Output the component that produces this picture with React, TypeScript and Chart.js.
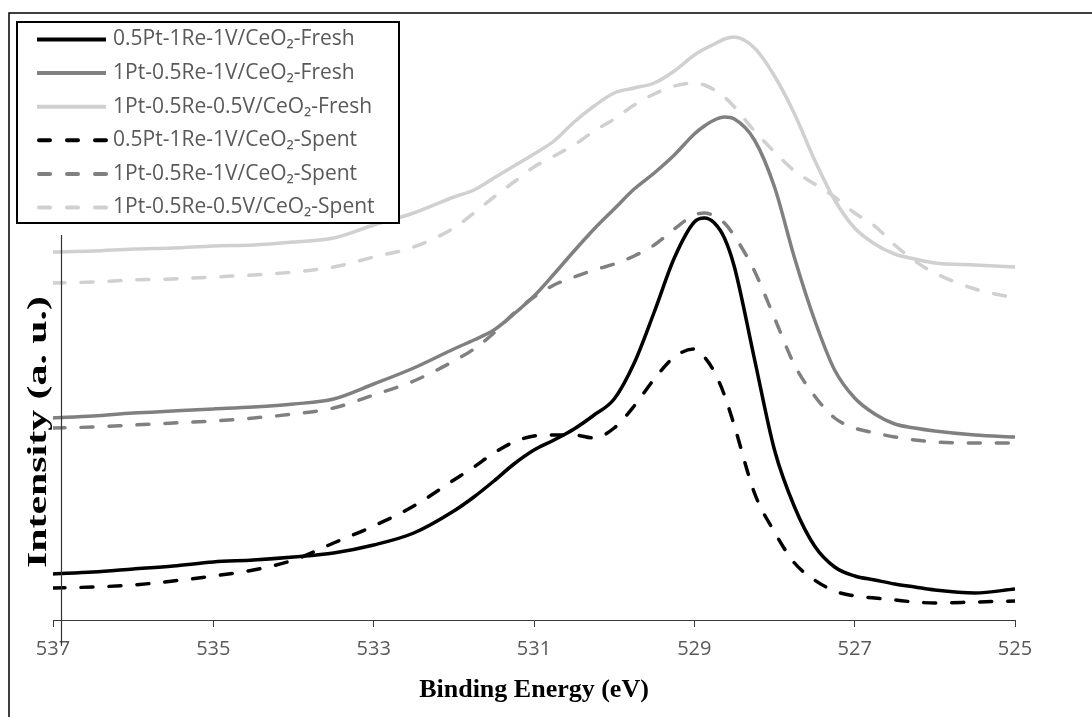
import React, { useEffect, useRef } from "react";
import { Chart, registerables } from "chart.js";

Chart.register(...registerables);

// Binding energy grid (eV)
const ENERGY_EV = [
  537, 536.5, 536, 535.5, 535, 534.5, 534, 533.5, 533, 532.5, 532, 531.75, 531.5, 531.25, 531,
  530.75, 530.5, 530.25, 530, 529.75, 529.5, 529.25, 529, 528.875, 528.75, 528.625, 528.5, 528.25,
  528, 527.75, 527.5, 527.25, 527, 526.75, 526.5, 526.25, 526, 525.5, 525,
];

// Intensities (a.u.), offset stacked as in the figure
const PT05_RE1_V1_FRESH = [
  46, 48, 51, 54, 58, 60, 63, 67, 75, 87, 109, 123, 139, 156, 170, 180, 191, 205, 221, 257, 308, 362,
  398, 402, 397, 382, 353, 261, 170, 113, 74, 53, 44, 40, 36, 33, 30, 27, 31,
];
const PT1_RE05_V1_FRESH = [
  202, 204, 207, 209, 211, 213, 216, 221, 236, 252, 271, 280, 290, 306, 324, 346, 369, 391, 411, 431,
  447, 465, 486, 494, 500, 503, 501, 480, 433, 362, 300, 250, 222, 206, 196, 192, 189, 185, 183,
];
const PT1_RE05_V05_FRESH = [
  368, 369, 371, 372, 374, 375, 378, 382, 395, 407, 423, 430, 442, 454, 466, 479, 498, 514, 527, 532,
  537, 549, 565, 571, 576, 581, 583, 572, 544, 506, 460, 420, 392, 376, 366, 361, 357, 355, 353,
];
const PT05_RE1_V1_SPENT = [
  32, 33, 35, 39, 44, 50, 60, 77, 94, 114, 140, 153, 167, 178, 184, 185, 185, 182, 192, 214, 241, 263,
  271, 263, 248, 225, 194, 127, 88, 57, 40, 29, 24, 22, 20, 18, 17, 18, 19,
];
const PT1_RE05_V1_SPENT = [
  192, 193, 195, 197, 199, 202, 206, 212, 225, 239, 259, 271, 287, 307, 323, 335, 343, 350, 356, 364,
  375, 391, 405, 407, 404, 397, 384, 349, 302, 255, 224, 202, 192, 187, 183, 180, 178, 177, 177,
];
const PT1_RE05_V05_SPENT = [
  337, 338, 340, 341, 343, 345, 348, 353, 363, 373, 392, 407, 423, 438, 453, 464, 475, 489, 501, 515,
  526, 534, 537, 535, 530, 523, 513, 489, 468, 449, 436, 423, 407, 394, 375, 359, 347, 331, 322,
];

const X_TICKS = [537, 535, 533, 531, 529, 527, 525];

const SERIES_LABELS = [
  "0.5Pt-1Re-1V/CeO₂-Fresh",
  "1Pt-0.5Re-1V/CeO₂-Fresh",
  "1Pt-0.5Re-0.5V/CeO₂-Fresh",
  "0.5Pt-1Re-1V/CeO₂-Spent",
  "1Pt-0.5Re-1V/CeO₂-Spent",
  "1Pt-0.5Re-0.5V/CeO₂-Spent",
];
const SERIES_VALUES = [
  PT05_RE1_V1_FRESH,
  PT1_RE05_V1_FRESH,
  PT1_RE05_V05_FRESH,
  PT05_RE1_V1_SPENT,
  PT1_RE05_V1_SPENT,
  PT1_RE05_V05_SPENT,
];
const SERIES_COLORS = ["#000000", "#808080", "#d0d0d0", "#000000", "#808080", "#d0d0d0"];
const SERIES_DASHED = [false, false, false, true, true, true];

const X_TITLE = "Binding Energy (eV)";
const Y_TITLE = "Intensity (a. u.)";

const decorPlugin = {
  id: "decor",
  afterDraw(chart: any) {
    const { ctx } = chart;
    const xs = chart.scales.x;
    const ys = chart.scales.y;
    ctx.save();

    // outer frame (top and left edges visible)
    ctx.strokeStyle = "#000";
    ctx.lineWidth = 1.5;
    ctx.beginPath();
    ctx.moveTo(9, chart.height);
    ctx.lineTo(9, 13);
    ctx.lineTo(chart.width, 13);
    ctx.stroke();

    // vertical axis line
    const vx = Math.round(xs.getPixelForValue(536.9)) + 0.5;
    ctx.strokeStyle = "#333";
    ctx.lineWidth = 1.2;
    ctx.beginPath();
    ctx.moveTo(vx, ys.getPixelForValue(385));
    ctx.lineTo(vx, chart.chartArea.bottom + 26);
    ctx.stroke();

    // y title (stretched as in the figure)
    ctx.save();
    ctx.translate(39, 432);
    ctx.rotate(-Math.PI / 2);
    ctx.font = 'bold 27px "Liberation Serif", "Times New Roman", serif';
    const w = ctx.measureText(Y_TITLE).width;
    ctx.scale(272 / w, 1);
    ctx.fillStyle = "#000";
    ctx.textAlign = "center";
    ctx.textBaseline = "middle";
    ctx.fillText(Y_TITLE, 0, 0);
    ctx.restore();

    // legend
    const lx = 17, ly = 22, lw = 382, lh = 201;
    ctx.fillStyle = "#fff";
    ctx.fillRect(lx, ly, lw, lh);
    ctx.strokeStyle = "#000";
    ctx.lineWidth = 2;
    ctx.strokeRect(lx, ly, lw, lh);
    chart.data.datasets.forEach((ds: any, i: number) => {
      const y = 39.5 + i * 33.6;
      const dashed = ds.borderDash && ds.borderDash.length;
      ctx.strokeStyle = ds.borderColor;
      ctx.lineWidth = 4;
      ctx.setLineDash(dashed ? [11, 17] : []);
      ctx.lineCap = dashed ? "round" : "butt";
      ctx.beginPath();
      ctx.moveTo(dashed ? 39 : 37, y);
      ctx.lineTo(106, y);
      ctx.stroke();
      ctx.setLineDash([]);
      ctx.fillStyle = "#595959";
      ctx.font = '21px "Open Sans", sans-serif';
      ctx.textAlign = "left";
      ctx.textBaseline = "middle";
      ctx.fillText(ds.label, 113, y);
    });
    ctx.restore();
  },
};

export default function App() {
  const canvasRef = useRef<HTMLCanvasElement | null>(null);

  useEffect(() => {
    const canvas = canvasRef.current;
    if (!canvas) return;
    const datasets = SERIES_LABELS.map((label, i) => ({
      label,
      data: ENERGY_EV.map((x, j) => ({ x, y: SERIES_VALUES[i][j] })),
      borderColor: SERIES_COLORS[i],
      backgroundColor: SERIES_COLORS[i],
      borderWidth: 3.5,
      borderDash: SERIES_DASHED[i] ? [12, 16] : [],
      borderCapStyle: SERIES_DASHED[i] ? "round" : "butt",
      borderJoinStyle: "round",
      pointRadius: 0,
      cubicInterpolationMode: "monotone",
      fill: false,
    }));
    // draw lighter ones first so darker lines sit on top
    const order = [2, 5, 1, 4, 0, 3];
    datasets.forEach((d: any, i) => (d.order = order.length - order.indexOf(i)));

    const chart = new Chart(canvas, {
      type: "line",
      data: { datasets: datasets as any },
      options: {
        responsive: false,
        animation: false,
        devicePixelRatio: 1,
        layout: { padding: { left: 53, right: 77, top: 20, bottom: 0 } },
        plugins: { legend: { display: false }, tooltip: { enabled: false } },
        scales: {
          x: {
            type: "linear",
            min: 525,
            max: 537,
            reverse: true,
            afterBuildTicks: (scale: any) => {
              scale.ticks = X_TICKS.map((v) => ({ value: v }));
            },
            afterFit: (scale: any) => {
              scale.height = 97;
            },
            ticks: {
              color: "#595959",
              font: { family: '"Open Sans", sans-serif', size: 20 },
              padding: 10,
              maxRotation: 0,
              autoSkip: false,
              callback: (v: any) => String(v),
            },
            grid: {
              display: true,
              drawOnChartArea: false,
              drawTicks: true,
              tickLength: 7,
              color: "#3a3a3a",
              lineWidth: 1,
            },
            border: { display: true, color: "#3a3a3a", width: 1 },
            title: {
              display: true,
              text: X_TITLE,
              color: "#000",
              font: { family: '"Liberation Serif", "Times New Roman", serif', size: 26, weight: "bold" },
              padding: { top: 0, bottom: 11 },
            },
          },
          y: {
            type: "linear",
            display: false,
            min: 0,
            max: 600,
          },
        },
      },
      plugins: [decorPlugin],
    });
    return () => chart.destroy();
  }, []);

  return (
    <div style={{ position: "fixed", left: 0, top: 0, width: 1092, height: 717, background: "#fff" }}>
      <canvas ref={canvasRef} width={1092} height={717} style={{ width: 1092, height: 717, display: "block" }} />
    </div>
  );
}
